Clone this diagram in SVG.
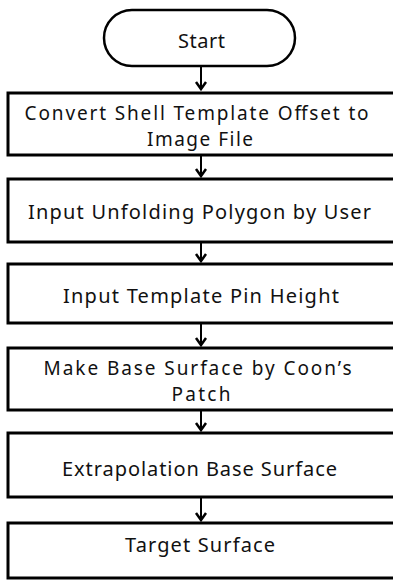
<svg xmlns="http://www.w3.org/2000/svg" width="393" height="581" viewBox="0 0 393 581">
  <style>
    .box { fill: #ffffff; stroke: #000000; stroke-width: 3; }
    .term { fill: #ffffff; stroke: #000000; stroke-width: 2.5; }
    .lbl { font-family: "Noto Sans", "Open Sans", "DejaVu Sans", sans-serif; font-size: 20px; fill: #111111; text-anchor: middle; }
    .lbl2 { font-size: 19px; }
    .link { stroke: #000000; stroke-width: 2; fill: none; }
    .head { stroke: #000000; stroke-width: 2.5; fill: none; stroke-linejoin: miter; }
  </style>
  <rect width="393" height="581" fill="#ffffff"/>

  <g id="connectors">
    <line class="link" x1="201" y1="67" x2="201" y2="90"/>
    <polyline class="head" points="196,82 201,89 206,82"/>
    <line class="link" x1="201" y1="155" x2="201" y2="177"/>
    <polyline class="head" points="196,169 201,176 206,169"/>
    <line class="link" x1="201" y1="242" x2="201" y2="262"/>
    <polyline class="head" points="196,254 201,261 206,254"/>
    <line class="link" x1="201" y1="323" x2="201" y2="346"/>
    <polyline class="head" points="196,338 201,345 206,338"/>
    <line class="link" x1="201" y1="410" x2="201" y2="431"/>
    <polyline class="head" points="196,423 201,430 206,423"/>
    <line class="link" x1="201" y1="497" x2="201" y2="521"/>
    <polyline class="head" points="196,513 201,520 206,513"/>
  </g>

  <g id="start">
    <rect class="term" x="104" y="10" width="191" height="56" rx="28" ry="28"/>
    <text class="lbl" x="201.5" y="48" textLength="47" lengthAdjust="spacing">Start</text>
  </g>

  <g id="convert">
    <rect class="box" x="8" y="93" width="400" height="62"/>
    <text class="lbl lbl2">
      <tspan x="200" y="120" textLength="344" lengthAdjust="spacing">Convert Shell Template Offset to</tspan>
      <tspan x="200" y="146" textLength="106" lengthAdjust="spacing">Image File</tspan>
    </text>
  </g>

  <g id="unfolding">
    <rect class="box" x="8" y="179" width="400" height="63"/>
    <text class="lbl" x="199.5" y="219" textLength="343" lengthAdjust="spacing">Input Unfolding Polygon by User</text>
  </g>

  <g id="pin-height">
    <rect class="box" x="8" y="264" width="400" height="59"/>
    <text class="lbl" x="201" y="303" textLength="276" lengthAdjust="spacing">Input Template Pin Height</text>
  </g>

  <g id="base-surface">
    <rect class="box" x="8" y="348" width="400" height="62"/>
    <text class="lbl lbl2">
      <tspan x="201" y="375" textLength="308" lengthAdjust="spacing">Make Base Surface by Coon’s</tspan>
      <tspan x="201" y="401" textLength="59" lengthAdjust="spacing">Patch</tspan>
    </text>
  </g>

  <g id="extrapolation">
    <rect class="box" x="8" y="433" width="400" height="64"/>
    <text class="lbl" x="199.5" y="476" textLength="275" lengthAdjust="spacing">Extrapolation Base Surface</text>
  </g>

  <g id="target">
    <rect class="box" x="8" y="523" width="400" height="55"/>
    <text class="lbl" x="200" y="552" textLength="150" lengthAdjust="spacing">Target Surface</text>
  </g>
</svg>
